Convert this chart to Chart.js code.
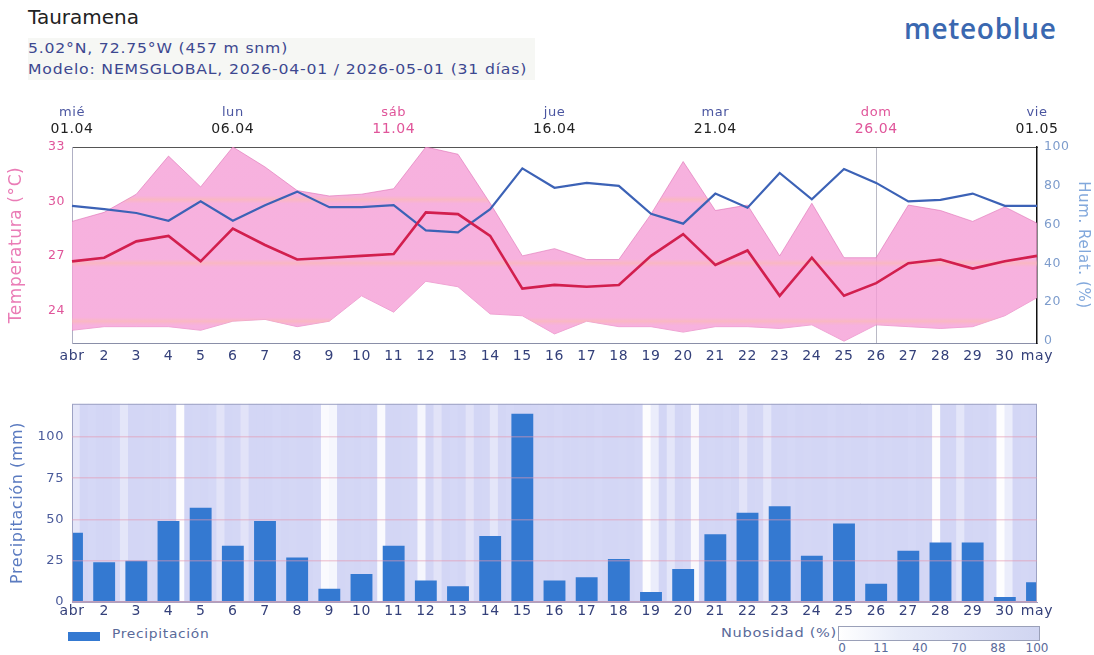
<!DOCTYPE html>
<html><head><meta charset="utf-8">
<script src="https://cdn.jsdelivr.net/npm/chart.js@4.4.1/dist/chart.umd.min.js"></script>
<style>
body{margin:0;width:1094px;height:655px;background:#fff;position:relative;overflow:hidden;font-family:"DejaVu Sans",sans-serif;}
#title{position:absolute;left:28px;top:5px;font-size:20px;color:#222;}
#sub{position:absolute;left:28px;top:38px;width:507px;height:42px;background:#f6f7f4;}
#sub div{font-size:13.5px;color:#3d4890;line-height:21px;white-space:nowrap;letter-spacing:0.7px;transform:scaleX(1.16);transform-origin:left center;}
#logo{position:absolute;left:904px;top:9px;font-family:"Open Sans",sans-serif;font-weight:600;font-size:28px;letter-spacing:0.7px;color:#3a68b0;}
#c1wrap{position:absolute;left:0;top:95px;width:1094px;height:270px;}
#c2wrap{position:absolute;left:0;top:388px;width:1094px;height:232px;}
#leg1{position:absolute;left:68px;top:632px;width:32px;height:9px;background:#3479d1;}
#leg1t{position:absolute;left:112px;top:627px;font-size:12px;color:#5a6a9a;letter-spacing:0.6px;transform:scaleX(1.15);transform-origin:left center;}
#leg2t{position:absolute;left:721px;top:625px;font-size:13px;color:#5a6a9a;letter-spacing:0.6px;transform:scaleX(1.12);transform-origin:left center;}
#cbar{position:absolute;left:838px;top:626px;width:200px;height:13px;border:1px solid #9aa0b8;background:linear-gradient(to right,#ffffff,#e8ecf9 30%,#dadef5 70%,#d0d5f1);}
.cbl{position:absolute;top:641px;font-size:12px;color:#5a6a9a;transform:translateX(-50%);}
</style></head>
<body>
<div id="title">Tauramena</div>
<div id="sub"><div>5.02°N, 72.75°W (457 m snm)</div><div>Modelo: NEMSGLOBAL, 2026-04-01 / 2026-05-01 (31 días)</div></div>
<div id="logo">meteoblue</div>
<div id="c1wrap"><canvas id="c1"></canvas></div>
<div id="c2wrap"><canvas id="c2"></canvas></div>
<div id="leg1"></div><div id="leg1t">Precipitación</div>
<div id="leg2t">Nubosidad (%)</div>
<div id="cbar"></div>
<div id="cbls"></div>
<script>
// ---------- data ----------
const days = ['abr','2','3','4','5','6','7','8','9','10','11','12','13','14','15','16','17','18','19','20','21','22','23','24','25','26','27','28','29','30','may'];
const tempMean = [26.7,26.9,27.8,28.1,26.7,28.5,27.6,26.8,26.9,27.0,27.1,29.4,29.3,28.1,25.2,25.4,25.3,25.4,27.0,28.2,26.5,27.3,24.8,26.9,24.8,25.5,26.6,26.8,26.3,26.7,27.0];
const tempMax = [28.9,29.4,30.4,32.5,30.8,33.0,31.9,30.6,30.3,30.4,30.7,33.0,32.6,29.9,27.0,27.4,26.8,26.8,29.3,32.2,29.5,29.8,27.0,29.9,26.9,26.9,29.8,29.5,28.9,29.7,28.8];
const tempMin = [22.9,23.1,23.1,23.1,22.9,23.4,23.5,23.1,23.4,24.8,23.9,25.6,25.3,23.8,23.7,22.7,23.4,23.1,23.1,22.8,23.1,23.1,23.0,23.2,22.3,23.2,23.1,23.0,23.1,23.7,24.7];
const humidity = [69.7,68,66,62,72,62,70,77,69,69,70,57,56,68,89,79,81.5,80,65.6,60.5,76,68.7,86.6,73,88.7,81.5,72,72.8,76,69.7,69.7];
const precip = [42,24,25,49,57,34,49,27,8,17,34,13,9.6,40,114,13,15,26,6,20,41,54,58,28,47.5,11,31,36,36,3,12];
// cloud cover (%), 6-hourly slots, 1 abr 00h -> 1 may 00h
const cloud6h = [
 55,90,85,90, 90,85,55,90, 90,88,90,85, 90,5,90,88, 90,85,60,90,
 88,60,90,90, 90,85,90,88, 90,90,85,10, 20,90,88,90, 85,90,10,90,
 90,88,85,20, 90,60,90,85, 90,60,90,88, 55,90,85,90, 90,90,88,90,
 85,90,90,88, 90,85,90,90, 88,90,85,5, 40,90,55,90, 85,15,90,88,
 90,85,90,60, 90,88,55,90, 90,85,90,88, 90,90,85,90, 88,90,90,85,
 90,88,90,90, 85,90,88,5, 90,90,55,90, 88,90,85,5, 40,90,88,90];
const topTickIdx = [0,5,10,15,20,25,30];
const topDayNames = ['mié','lun','sáb','jue','mar','dom','vie'];
const topDates = ['01.04','06.04','11.04','16.04','21.04','26.04','01.05'];
const weekendIdx = [10,25];
const tempTicks = [24,27,30,33];
const humTicks = [0,20,40,60,80,100];
const precipTicks = [0,25,50,75,100];
const cloudBarTicks = ['0','11','40','70','88','100'];

// colorbar labels
const cbl = document.getElementById('cbls');
cloudBarTicks.forEach((t,i)=>{const d=document.createElement('div');d.className='cbl';d.style.left=(842+i*39)+'px';d.textContent=t;cbl.appendChild(d);});

Chart.defaults.font.family = '"DejaVu Sans", sans-serif';
Chart.defaults.animation = false;
const PINK = '#e0559a', NAVY = '#34407a';

const spacing = {id:'spacing', beforeDraw(chart){ chart.ctx.letterSpacing = '0.6px'; }};

// pink fill with faint orange bands
function fillGradient(ctx){
  const ch = ctx.chart, a = ch.chartArea;
  const base = 'rgba(245,158,214,0.8)', band = 'rgba(249,176,188,0.9)';
  if(!a) return base;
  const g = ch.ctx.createLinearGradient(0,a.top,0,a.bottom);
  const ys = ch.scales.y, H = a.bottom - a.top;
  g.addColorStop(0, base);
  [30.1,26.6,23.4].forEach(t=>{
    const f = (ys.getPixelForValue(t)-a.top)/H;
    const w = 4/H;
    g.addColorStop(Math.max(0,f-w), base);
    g.addColorStop(f, band);
    g.addColorStop(Math.min(1,f+w), base);
  });
  g.addColorStop(1, base);
  return g;
}

new Chart(document.getElementById('c1'), {
  type:'line',
  data:{labels:days, datasets:[
    {label:'Temp media', data:tempMean, yAxisID:'y', borderColor:'#d21f4e', borderWidth:2.6, pointRadius:0, fill:false, order:0},
    {label:'Hum', data:humidity, yAxisID:'y2', borderColor:'#3c62b6', borderWidth:2.2, pointRadius:0, fill:false, order:1},
    {label:'Tmax', data:tempMax, yAxisID:'y', borderColor:'rgba(222,110,180,0.6)', borderWidth:1, pointRadius:0, fill:'+1', backgroundColor:fillGradient, order:2},
    {label:'Tmin', data:tempMin, yAxisID:'y', borderColor:'rgba(222,110,180,0.6)', borderWidth:1, pointRadius:0, fill:false, order:3}
  ]},
  plugins:[spacing],
  options:{
    responsive:true, maintainAspectRatio:false,
    layout:{padding:0},
    plugins:{legend:{display:false}, tooltip:{enabled:false}},
    scales:{
      x:{position:'bottom', offset:false,
        afterFit:s=>{s.height=22;},
        grid:{drawTicks:false, color:c=>c.index===25?'rgba(140,140,160,0.6)':'rgba(0,0,0,0)'},
        border:{color:'#8a8fa8'},
        ticks:{autoSkip:false, maxRotation:0, padding:5, color:NAVY, font:{size:14}}},
      xDate:{position:'top', type:'category', offset:false, weight:0,
        afterFit:s=>{s.height=27;},
        grid:{display:false, drawTicks:false}, border:{display:true, color:'#555'},
        ticks:{autoSkip:false, maxRotation:0, padding:9.5, font:{size:14},
          color:c=>weekendIdx.includes(c.index)?PINK:'#222',
          callback:(v,i)=>{const k=topTickIdx.indexOf(i);return k>=0?topDates[k]:'';}}},
      xDay:{position:'top', type:'category', offset:false, weight:1,
        afterFit:s=>{s.height=25;},
        grid:{display:false, drawTicks:false}, border:{display:false},
        ticks:{autoSkip:false, maxRotation:0, padding:0, font:{size:13},
          color:c=>weekendIdx.includes(c.index)?PINK:'#4a55a0',
          callback:(v,i)=>{const k=topTickIdx.indexOf(i);return k>=0?topDayNames[k]:'';}}},
      y:{position:'left', min:22.2, max:33,
        afterFit:s=>{s.width=72;},
        afterBuildTicks:s=>{s.ticks=tempTicks.map(v=>({value:v}));},
        grid:{drawTicks:false, color:'rgba(0,0,0,0)'}, border:{color:'#b0b0c4'},
        ticks:{padding:7, color:PINK, font:{size:12.5}},
        title:{display:true, text:'Temperatura (°C)', color:'#ea7cb6', font:{size:17}, padding:{top:6,bottom:2}}},
      y2:{position:'right', min:-1, max:100,
        afterFit:s=>{s.width=57;},
        afterBuildTicks:s=>{s.ticks=humTicks.map(v=>({value:v}));},
        grid:{drawOnChartArea:false, drawTicks:false}, border:{color:'#111', width:1.5},
        ticks:{padding:7, color:'#7d9ccc', font:{size:12.5}},
        title:{display:true, text:'Hum. Relat. (%)', color:'#82a8dc', font:{size:15}, padding:{top:2,bottom:2}}}
    }
  }
});

// cloud colors
function cloudColor(v){
  const f=v/100; const r=Math.round(255-(255-206)*f), g=Math.round(255-(255-209)*f), b=Math.round(255-(255-244)*f);
  return `rgb(${r},${g},${b})`;
}
const frame = {id:'frame', afterDatasetsDraw(chart){const {ctx,chartArea:a}=chart; ctx.save(); ctx.strokeStyle='#9da2c4'; ctx.lineWidth=1; ctx.strokeRect(a.left+0.5,a.top+0.5,a.right-a.left-1,a.bottom-a.top-1); ctx.restore();}};

new Chart(document.getElementById('c2'), {
  type:'bar',
  data:{labels:days, datasets:[
    {label:'Precipitación', data:precip, xAxisID:'x', yAxisID:'y', backgroundColor:'#3479d1', barPercentage:0.68, categoryPercentage:1, grouped:false, order:0},
    {label:'Nubosidad', data:cloud6h.map(()=>120), xAxisID:'xc', yAxisID:'y', backgroundColor:cloud6h.map(cloudColor), barPercentage:1, categoryPercentage:1, grouped:false, order:5}
  ]},
  plugins:[spacing, frame],
  options:{
    responsive:true, maintainAspectRatio:false,
    layout:{padding:{top:0, right:57, left:0, bottom:0}},
    plugins:{legend:{display:false}, tooltip:{enabled:false}},
    scales:{
      x:{position:'bottom', offset:false,
        afterFit:s=>{s.height=18;},
        grid:{drawTicks:false, color:c=>c.index===25?'rgba(140,140,175,0.7)':'rgba(0,0,0,0)'},
        border:{color:'#9da2c4'},
        ticks:{autoSkip:false, maxRotation:0, padding:1, color:NAVY, font:{size:14}}},
      xc:{type:'category', labels:cloud6h.map((v,i)=>String(i)), offset:true, display:false},
      y:{position:'left', min:0, max:120,
        afterFit:s=>{s.width=72;},
        afterBuildTicks:s=>{s.ticks=precipTicks.map(v=>({value:v}));},
        grid:{drawTicks:false, z:1, color:'rgba(228,150,175,0.45)', lineWidth:1.5}, border:{display:false},
        ticks:{padding:8, color:'#4a5a9a', font:{size:13}},
        title:{display:true, text:'Precipitación (mm)', color:'#5b7bc0', font:{size:16}, padding:{top:8,bottom:2}}}
    }
  }
});
</script>
</body></html>
